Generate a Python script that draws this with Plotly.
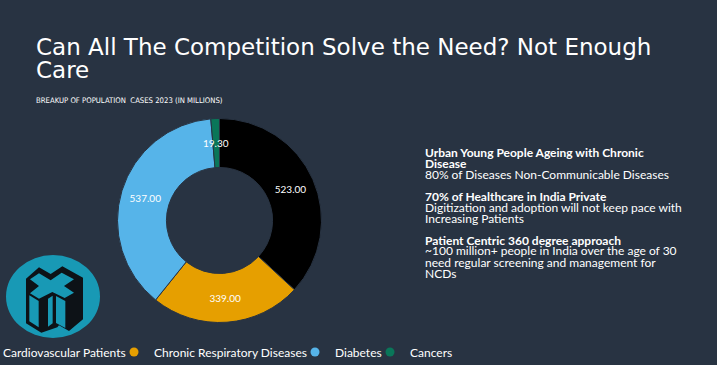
import math
import plotly.graph_objects as go

# ---------------- data ----------------
categories = ["Cardiovascular Patients", "Chronic Respiratory Diseases", "Diabetes", "Cancers"]
values = [523.00, 339.00, 537.00, 19.30]
colors = ["#000000", "#E69F00", "#56B4E9", "#0A7659"]

title_lines = ["Can All The Competition Solve the Need? Not Enough", "Care"]
subtitle = "BREAKUP OF POPULATION  CASES 2023 (IN MILLIONS)"

note_lines = [
    ("Urban Young People Ageing with Chronic", True),
    ("Disease", True),
    ("80% of Diseases Non-Communicable Diseases", False),
    ("70% of Healthcare in India Private", True),
    ("Digitization and adoption will not keep pace with", False),
    ("Increasing Patients", False),
    ("Patient Centric 360 degree approach", True),
    ("~100 million+ people in India over the age of 30", False),
    ("need regular screening and management for", False),
    ("NCDs", False),
]

# ---------------- layout helpers ----------------
W, H = 717, 365
BG = "#283342"


def px(x):
    return x / W


def py(y):
    return 1 - y / H


# pie geometry (pixels)
PIE_L, PIE_R, PIE_T, PIE_B = 117.5, 321.5, 118.5, 322.5
HOLE = 0.52
cx, cy = (PIE_L + PIE_R) / 2, (PIE_T + PIE_B) / 2
R = (PIE_R - PIE_L) / 2

# labels: tiny slices get their label as an annotation at mid-radius (horizontal)
total = sum(values)
small = [v / total < 0.03 for v in values]
slice_text = ["" if s else "%.2f" % v for v, s in zip(values, small)]

fig = go.Figure()

fig.add_trace(go.Pie(
    labels=categories,
    values=values,
    text=slice_text,
    textinfo="text",
    marker=dict(colors=colors, line=dict(color=BG, width=1)),
    hole=HOLE,
    sort=False,
    direction="clockwise",
    rotation=0,
    textposition="inside",
    insidetextorientation="horizontal",
    textfont=dict(color="white", size=10, family="Lato"),
    showlegend=False,
    domain=dict(x=[px(PIE_L), px(PIE_R)], y=[py(PIE_B), py(PIE_T)]),
))

# legend entries (circle markers), one legend per entry for placement
legend_names = ["legend", "legend2", "legend3", "legend4"]
text_starts = [3, 154, 335, 410]
for cat, col, lg in zip(categories, colors, legend_names):
    fig.add_trace(go.Scatter(
        x=[None], y=[None], mode="markers", name=cat,
        marker=dict(color=col, size=9, symbol="circle"),
        legend=lg, showlegend=True,
    ))

legend_common = dict(
    orientation="h", yanchor="middle", xanchor="left",
    bgcolor="rgba(0,0,0,0)", borderwidth=0,
    font=dict(family="Lato", size=12, color="#FFFFFF"),
)
layout_legends = {}
for lg, ts in zip(legend_names, text_starts):
    layout_legends[lg] = dict(legend_common, x=px(ts - 40), y=py(352))

annotations = []
# title
annotations.append(dict(text=title_lines[0], x=px(34), y=py(47), xref="paper", yref="paper",
                         xanchor="left", yanchor="middle", showarrow=False,
                         font=dict(family="DejaVu Sans", size=23, color="#FFFFFF")))
annotations.append(dict(text=title_lines[1], x=px(34), y=py(70), xref="paper", yref="paper",
                         xanchor="left", yanchor="middle", showarrow=False,
                         font=dict(family="DejaVu Sans", size=23, color="#FFFFFF")))
annotations.append(dict(text=subtitle, x=px(34), y=py(101), xref="paper", yref="paper",
                         xanchor="left", yanchor="middle", showarrow=False,
                         font=dict(family="Liberation Sans Narrow, DejaVu Sans Condensed", size=7.7, color="#FFFFFF")))

# tiny-slice labels, positioned from the data (mid-angle, mid-radius)
cum = 0.0
for v, s in zip(values, small):
    if s:
        ang = 2 * math.pi * (cum + v / 2) / total
        rm = R * (1 + HOLE) / 2
        lx, ly = cx + rm * math.sin(ang), cy - rm * math.cos(ang)
        annotations.append(dict(text="%.2f" % v, x=px(lx), y=py(ly), xref="paper", yref="paper",
                                xanchor="center", yanchor="middle", showarrow=False,
                                font=dict(family="Lato", size=10, color="#FFFFFF")))
    cum += v

note_y = [152.7, 163.3, 174, 196, 207.7, 218.3, 240, 251, 262, 273.3]
for (txt, bold), yy in zip(note_lines, note_y):
    annotations.append(dict(text=("<b>%s</b>" % txt) if bold else txt, x=px(423), y=py(yy),
                            xref="paper", yref="paper", xanchor="left", yanchor="middle",
                            showarrow=False,
                            font=dict(family="Lato", size=12, color="#FFFFFF")))

# logo (decorative)
def path_from(pts):
    conv = [(px(24 + X / 3), py(262 + Y / 3)) for X, Y in pts]
    return "M " + " L ".join("%.5f,%.5f" % p for p in conv) + " Z"

TEAL = "#1899B5"
shapes = [dict(type="circle", xref="paper", yref="paper", x0=px(6), x1=px(100), y0=py(338), y1=py(255),
               fillcolor=TEAL, line=dict(width=0), layer="above")]
sil = [(6, 50), (45, 16), (80, 36), (115, 13), (177, 47), (177, 172), (135, 207), (105, 190),
       (100, 196), (52, 212), (6, 184)]
topx = [(18, 52), (45, 34), (80, 55), (113, 32), (150, 52), (120, 72), (150, 92), (122, 108),
        (85, 90), (45, 110), (18, 94), (45, 72)]
face1 = [(16, 100), (44, 117), (44, 196), (16, 178)]
face2 = [(72, 110), (86, 101), (86, 184), (72, 194)]
face3 = [(96, 102), (124, 117), (124, 198), (96, 183)]
for pts, col in [(sil, "#0D1217"), (topx, TEAL), (face1, TEAL), (face2, TEAL), (face3, TEAL)]:
    shapes.append(dict(type="path", xref="paper", yref="paper", path=path_from(pts),
                       fillcolor=col, line=dict(width=0), layer="above"))

fig.update_layout(
    width=W, height=H,
    paper_bgcolor=BG, plot_bgcolor=BG,
    margin=dict(l=0, r=0, t=0, b=0, autoexpand=False),
    xaxis=dict(visible=False), yaxis=dict(visible=False),
    annotations=annotations,
    shapes=shapes,
    **layout_legends,
)

fig.write_html(
    "out.html",
    config={"displayModeBar": False},
    post_script="document.body.style.margin='0';document.body.style.overflow='hidden';",
)
